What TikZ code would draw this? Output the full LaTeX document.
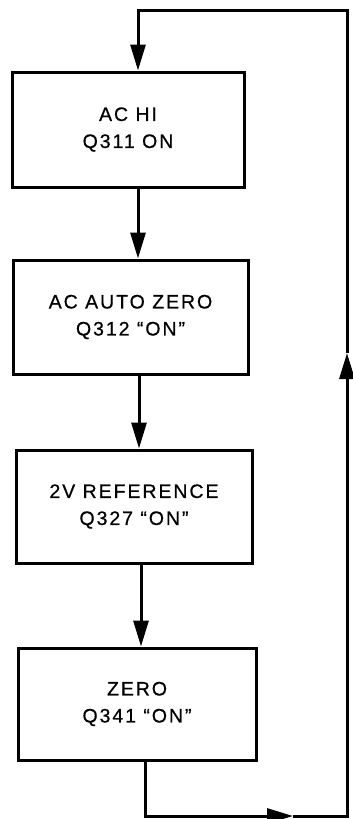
\documentclass[tikz,border=0pt]{standalone}
\usepackage{fontspec}
\setmainfont{Liberation Sans}[LetterSpace=10,FakeBold=0.6]
\usetikzlibrary{arrows.meta}
\begin{document}
\begin{tikzpicture}[x=1pt,y=-1pt,
  stepbox/.style={draw=black, line width=3pt, fill=white, align=center,
    font=\fontsize{19.5}{27}\selectfont, inner sep=0pt},
  flow/.style={draw=black, line width=3pt},
  tip/.style={-{Triangle[width=15pt,length=26pt]}},
  line join=miter]
\useasboundingbox (0,0) rectangle (353,819);
\fill[white] (0,0) rectangle (353,819);

\node[stepbox, minimum width=232pt, minimum height=115pt] (b1) at (128,129.5) {AC HI\\Q311 ON};
\node[stepbox, minimum width=235pt, minimum height=114pt] (b2) at (130.5,317) {AC AUTO ZERO\\Q312 ``ON''};
\node[stepbox, minimum width=236pt, minimum height=113pt] (b3) at (134,506.5) {2V REFERENCE\\Q327 ``ON''};
\node[stepbox, minimum width=238pt, minimum height=112pt] (b4) at (137,704) {ZERO\\Q341 ``ON''};

% arrow columns
\coordinate (x1) at (138,0);
\coordinate (x2) at (139,0);
\coordinate (x3) at (141,0);
\coordinate (x4) at (145,0);
% loop corners and arrow tips
\coordinate (bl) at (145,816);
\coordinate (rt) at (293,816);
\coordinate (br) at (347,816);
\coordinate (up) at (347,353);
\coordinate (tr) at (347,10);
\coordinate (tl) at (138,10);

\draw[flow,tip] (b1.south -| x1) -- (b2.north -| x1);
\draw[flow,tip] (b2.south -| x2) -- (b3.north -| x2);
\draw[flow,tip] (b3.south -| x3) -- (b4.north -| x3);
\draw[flow,tip] (b4.south -| x4) -- (bl) -- (rt);
\draw[flow,tip] (rt) -- (br) -- (up);
\draw[flow,tip] (up) -- (tr) -- (tl) -- (b1.north -| tl);
\end{tikzpicture}
\end{document}
